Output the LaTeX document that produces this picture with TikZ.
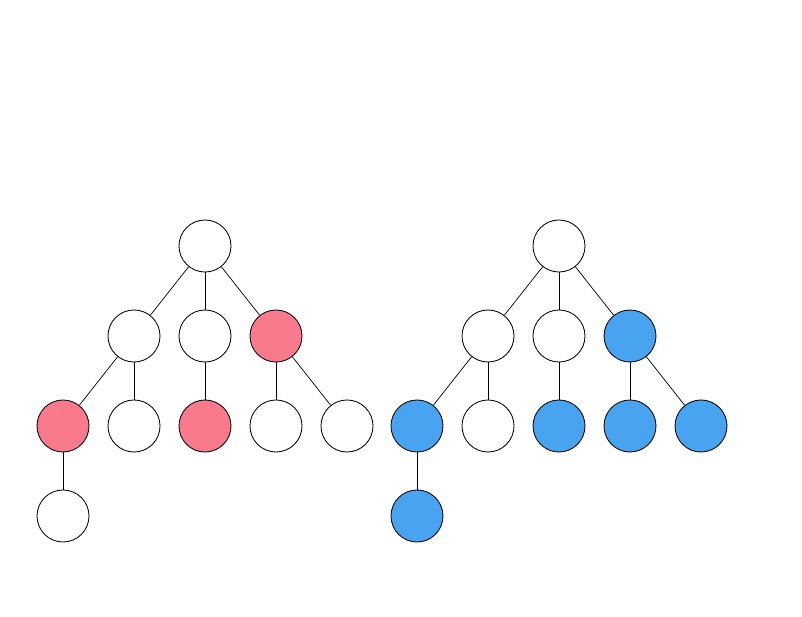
\documentclass[tikz,border=0pt]{standalone}
\usepackage{tikz}
\definecolor{pinkfill}{HTML}{F87A8C}
\definecolor{bluefill}{HTML}{48A4F0}
\tikzset{
  vert/.style={circle, draw=black, fill=white, line width=0.6pt, minimum size=1.3cm, inner sep=0pt},
  redv/.style={vert, fill=pinkfill},
  bluev/.style={vert, fill=bluefill},
  edge/.style={draw=black, line width=0.5pt},
}
\begin{document}
\begin{tikzpicture}[x=0.025cm, y=-0.025cm]
    \useasboundingbox (0,0) rectangle (802,617);
    % left tree
    \node[vert] (lr)  at (205,246) {};
    \node[vert] (la)  at (134,336) {};
    \node[vert] (lb)  at (205,336) {};
    \node[redv] (lc)  at (276,336) {};
    \node[redv] (laa) at (63,426)  {};
    \node[vert] (lab) at (134,426) {};
    \node[redv] (lba) at (205,426) {};
    \node[vert] (lca) at (276,426) {};
    \node[vert] (lcb) at (347,426) {};
    \node[vert] (lx)  at (63,516)  {};
    % right tree
    \node[vert]  (rr)  at (559,246) {};
    \node[vert]  (ra)  at (488,336) {};
    \node[vert]  (rb)  at (559,336) {};
    \node[bluev] (rc)  at (630,336) {};
    \node[bluev] (raa) at (417,426) {};
    \node[vert]  (rab) at (488,426) {};
    \node[bluev] (rba) at (559,426) {};
    \node[bluev] (rca) at (630,426) {};
    \node[bluev] (rcb) at (701,426) {};
    \node[bluev] (rx)  at (417,516) {};
    % edges
    \foreach \t in {l,r} {
      \draw[edge] (\t r) -- (\t a);
      \draw[edge] (\t r) -- (\t b);
      \draw[edge] (\t r) -- (\t c);
      \draw[edge] (\t a) -- (\t aa);
      \draw[edge] (\t a) -- (\t ab);
      \draw[edge] (\t b) -- (\t ba);
      \draw[edge] (\t c) -- (\t ca);
      \draw[edge] (\t c) -- (\t cb);
      \draw[edge] (\t aa) -- (\t x);
    }
\end{tikzpicture}
\end{document}
